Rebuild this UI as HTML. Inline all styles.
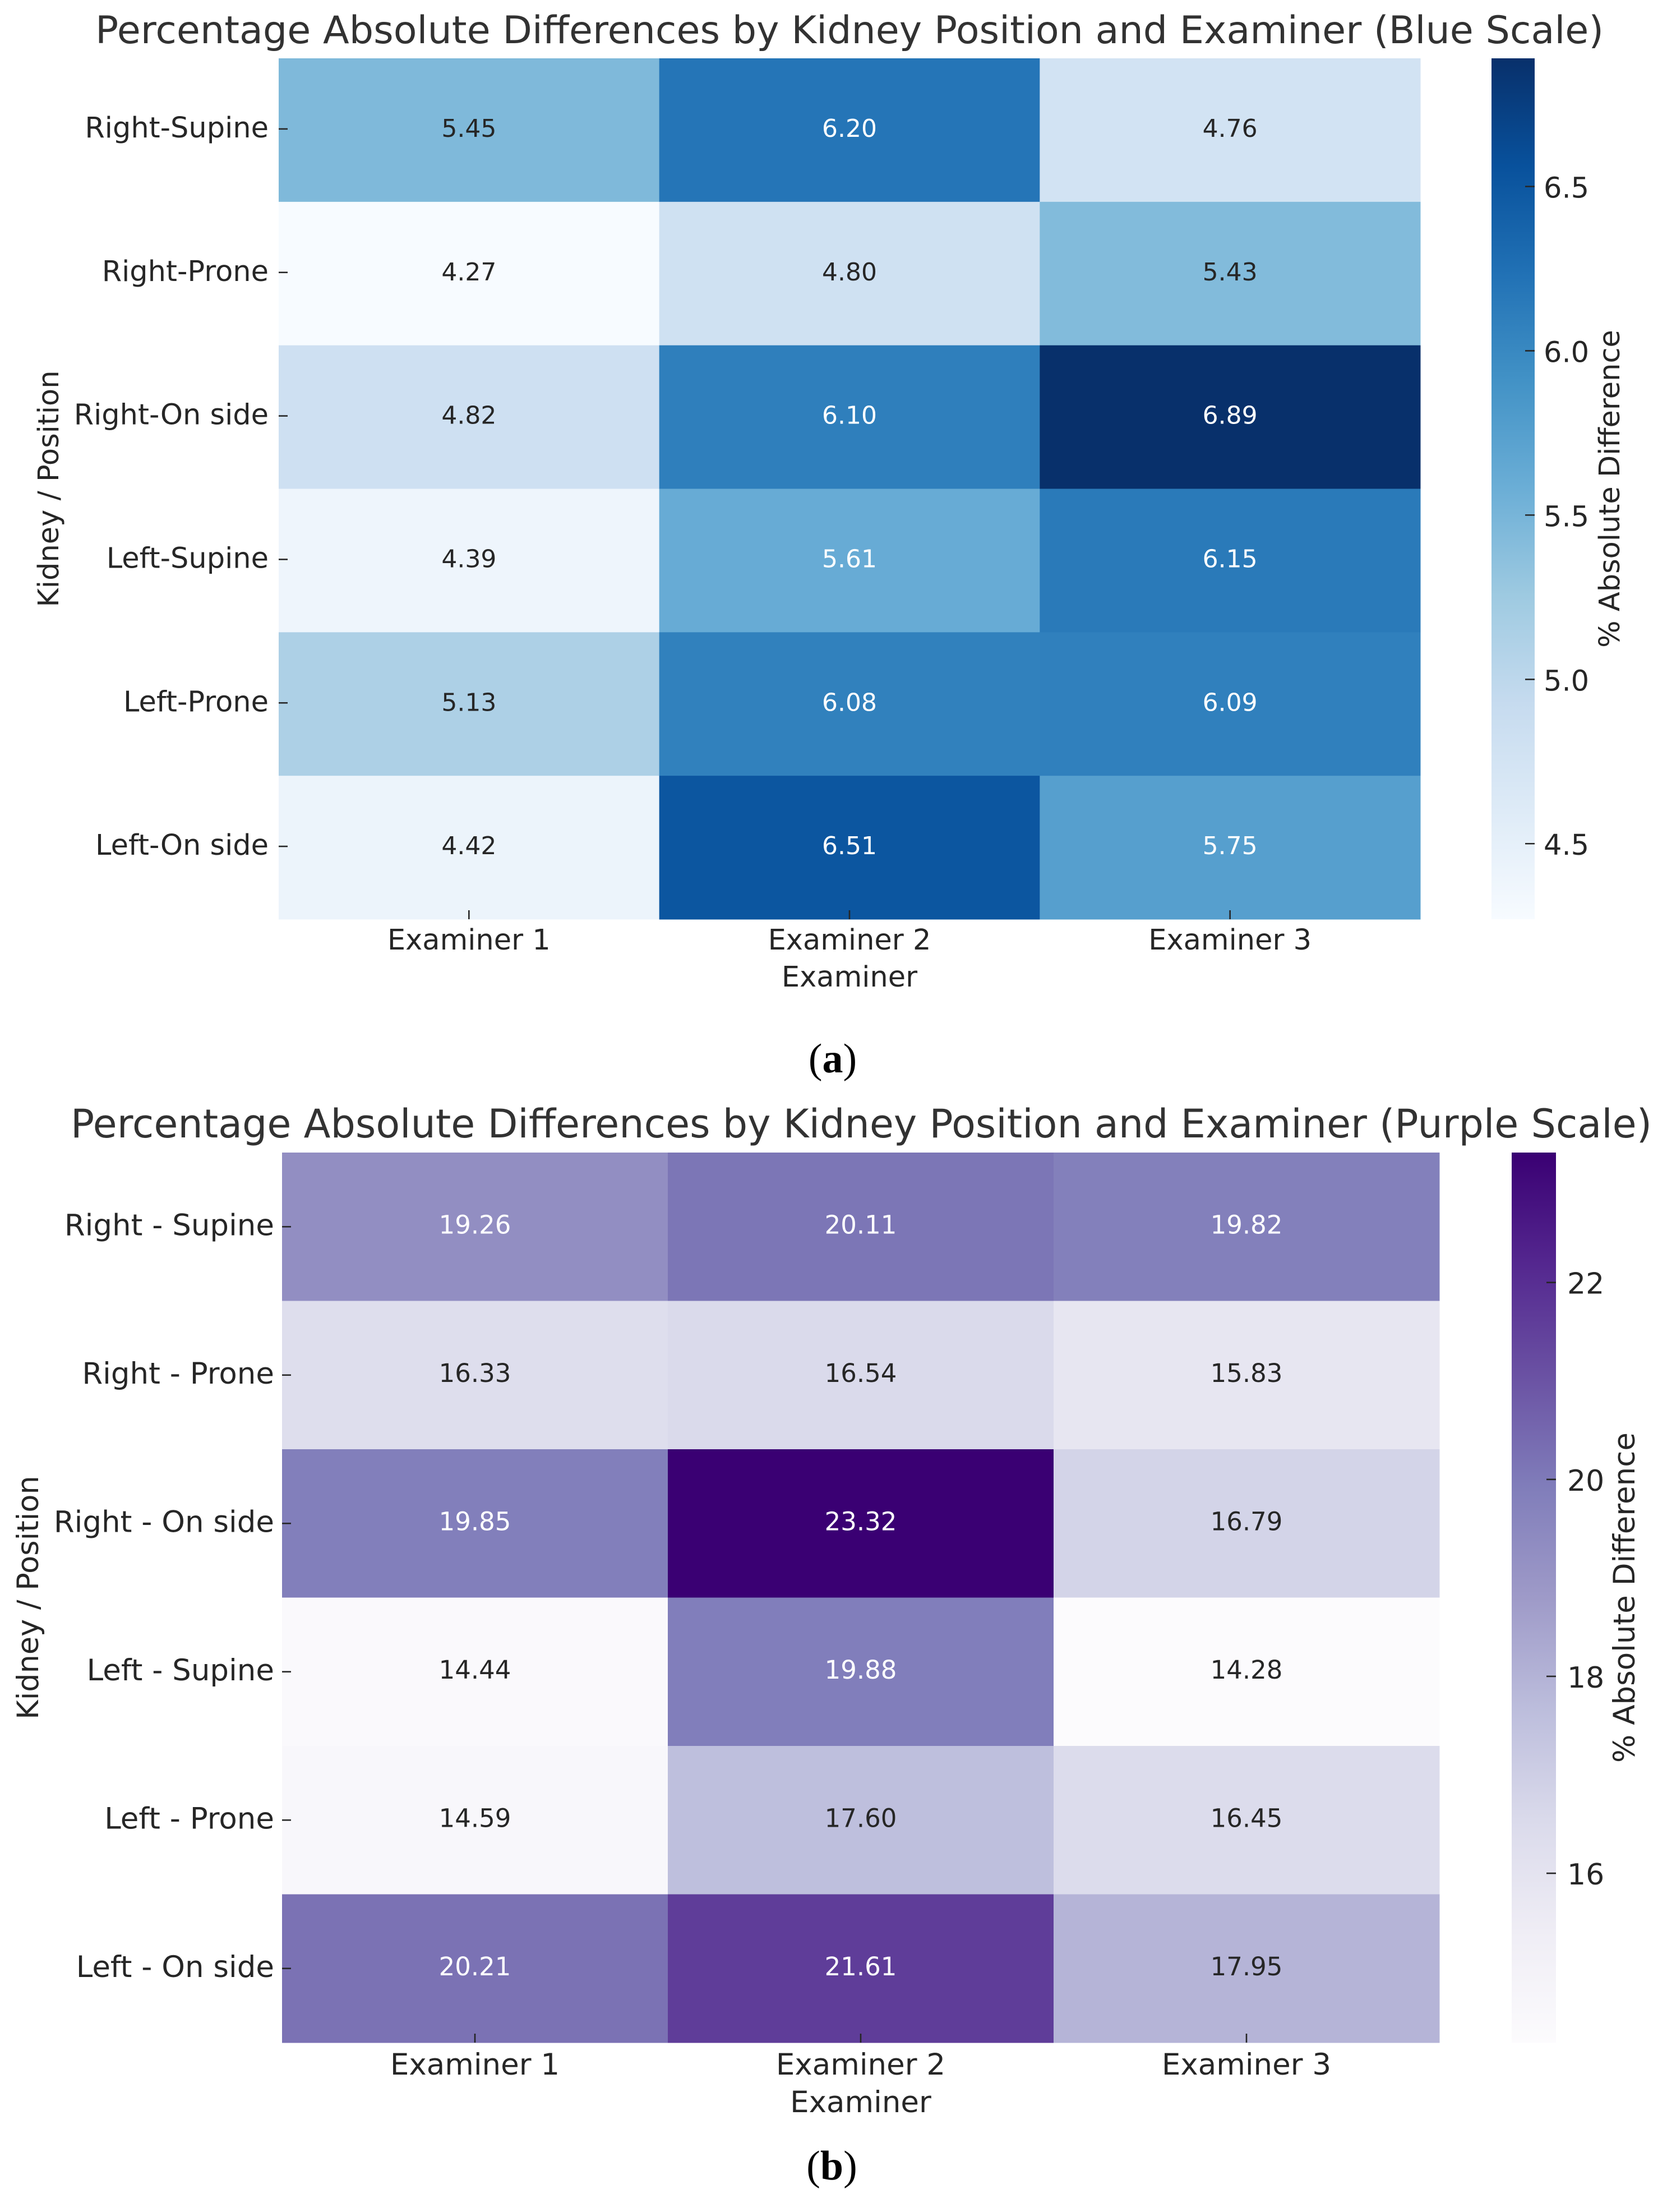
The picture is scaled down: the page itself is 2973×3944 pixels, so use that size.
<!DOCTYPE html>
<html lang="en">
<head>
<meta charset="utf-8">
<title>Percentage Absolute Differences by Kidney Position and Examiner</title>
<style>
html,body{margin:0;padding:0;background:#fff;width:2973px;height:3944px;overflow:hidden}
svg{display:block}
text{font-family:"DejaVu Sans","Liberation Sans",sans-serif;fill:#262626}
.chart-title{fill:#323232}
.caption{font-family:"Liberation Serif","DejaVu Serif",serif;fill:#000;font-size:74px}
</style>
</head>
<body>
<svg id="figure" xmlns="http://www.w3.org/2000/svg" width="2973" height="3944" viewBox="0 0 2973 3944">
  <rect x="0" y="0" width="2973" height="3944" fill="#ffffff"/>
  <defs id="defs"></defs>

  <g id="panel-a">
    <text class="chart-title" x="170" y="77" font-size="68" textLength="2690" lengthAdjust="spacingAndGlyphs">Percentage Absolute Differences by Kidney Position and Examiner (Blue Scale)</text>
    <text x="1515" y="1759" font-size="51" text-anchor="middle">Examiner</text>
    <text transform="translate(104 871.5) rotate(-90)" font-size="51" text-anchor="middle">Kidney / Position</text>
    <text transform="translate(2888 871.5) rotate(-90)" font-size="51" text-anchor="middle">% Absolute Difference</text>
  </g>
  <text class="caption" x="1485" y="1912" text-anchor="middle">(<tspan font-weight="bold">a</tspan>)</text>

  <g id="panel-b">
    <text class="chart-title" x="126" y="2028" font-size="70" textLength="2820" lengthAdjust="spacingAndGlyphs">Percentage Absolute Differences by Kidney Position and Examiner (Purple Scale)</text>
    <text x="1535" y="3766" font-size="53" text-anchor="middle">Examiner</text>
    <text transform="translate(68 2848.5) rotate(-90)" font-size="52.5" text-anchor="middle">Kidney / Position</text>
    <text transform="translate(2915 2848.5) rotate(-90)" font-size="53" text-anchor="middle">% Absolute Difference</text>
  </g>
  <text class="caption" x="1483.5" y="3886" text-anchor="middle">(<tspan font-weight="bold">b</tspan>)</text>
</svg>

<script>
// ---- Chart data ----
const examinerLabels = ["Examiner 1", "Examiner 2", "Examiner 3"];

const blueRowLabels = ["Right-Supine", "Right-Prone", "Right-On side", "Left-Supine", "Left-Prone", "Left-On side"];
const blueExaminer1 = [5.45, 4.27, 4.82, 4.39, 5.13, 4.42];
const blueExaminer2 = [6.20, 4.80, 6.10, 5.61, 6.08, 6.51];
const blueExaminer3 = [4.76, 5.43, 6.89, 6.15, 6.09, 5.75];
const blueColorbarTicks = [4.5, 5.0, 5.5, 6.0, 6.5];
const blueColorbarTickLabels = ["4.5", "5.0", "5.5", "6.0", "6.5"];

const purpleRowLabels = ["Right - Supine", "Right - Prone", "Right - On side", "Left - Supine", "Left - Prone", "Left - On side"];
const purpleExaminer1 = [19.26, 16.33, 19.85, 14.44, 14.59, 20.21];
const purpleExaminer2 = [20.11, 16.54, 23.32, 19.88, 17.60, 21.61];
const purpleExaminer3 = [19.82, 15.83, 16.79, 14.28, 16.45, 17.95];
const purpleColorbarTicks = [16, 18, 20, 22];
const purpleColorbarTickLabels = ["16", "18", "20", "22"];

// Matplotlib / ColorBrewer colormap anchors
const bluesColormap = ["#f7fbff", "#deebf7", "#c6dbef", "#9ecae1", "#6baed6", "#4292c6", "#2171b5", "#08519c", "#08306b"];
const purplesColormap = ["#fcfbfd", "#efedf5", "#dadaeb", "#bcbddc", "#9e9ac8", "#807dba", "#6a51a3", "#54278f", "#3a0073"];

// ---- Rendering ----
const SVG_NS = "http://www.w3.org/2000/svg";

function hexToRgb(hex) {
  return [1, 3, 5].map(function (i) { return parseInt(hex.substr(i, 2), 16); });
}

function sampleColormap(anchors, t) {
  const clamped = Math.max(0, Math.min(1, t));
  const pos = clamped * (anchors.length - 1);
  const low = Math.min(Math.floor(pos), anchors.length - 2);
  const frac = pos - low;
  const a = hexToRgb(anchors[low]);
  const b = hexToRgb(anchors[low + 1]);
  return [0, 1, 2].map(function (k) { return Math.round(a[k] + (b[k] - a[k]) * frac); });
}

function cssColor(rgb) {
  return "rgb(" + rgb.join(",") + ")";
}

function relativeLuminance(rgb) {
  const lin = rgb.map(function (v) {
    const c = v / 255;
    return c <= 0.03928 ? c / 12.92 : Math.pow((c + 0.055) / 1.055, 2.4);
  });
  return 0.2126 * lin[0] + 0.7152 * lin[1] + 0.0722 * lin[2];
}

function addLabel(parent, content, x, y, size, anchor, fill) {
  const el = document.createElementNS(SVG_NS, "text");
  el.setAttribute("x", x);
  el.setAttribute("y", y);
  el.setAttribute("font-size", size);
  el.setAttribute("text-anchor", anchor);
  if (fill) el.setAttribute("style", "fill:" + fill);
  el.textContent = content;
  parent.appendChild(el);
  return el;
}

function addTick(parent, x1, y1, x2, y2) {
  const el = document.createElementNS(SVG_NS, "line");
  el.setAttribute("x1", x1);
  el.setAttribute("y1", y1);
  el.setAttribute("x2", x2);
  el.setAttribute("y2", y2);
  el.setAttribute("stroke", "#262626");
  el.setAttribute("stroke-width", 2.6);
  parent.appendChild(el);
  return el;
}

function drawHeatmap(panel, prefix, layout, rowLabels, columns, colorbarTicks, colorbarTickLabels, colormap) {
  const parent = document.getElementById(panel);
  const allValues = columns.reduce(function (acc, col) { return acc.concat(col); }, []);
  const vMin = Math.min.apply(null, allValues);
  const vMax = Math.max.apply(null, allValues);
  const colWidth = (layout.right - layout.left) / columns.length;
  const rowHeight = (layout.bottom - layout.top) / rowLabels.length;

  function xBand(i) { return layout.left + i * colWidth; }
  function yBand(j) { return layout.top + j * rowHeight; }
  function normalize(v) { return (v - vMin) / (vMax - vMin); }
  function colorbarY(v) { return layout.bottom - normalize(v) * (layout.bottom - layout.top); }

  columns.forEach(function (col, i) {
    col.forEach(function (value, j) {
      const rgb = sampleColormap(colormap, normalize(value));
      const cell = document.createElementNS(SVG_NS, "rect");
      cell.setAttribute("x", xBand(i));
      cell.setAttribute("y", yBand(j));
      cell.setAttribute("width", colWidth + 0.5);
      cell.setAttribute("height", rowHeight + 0.5);
      cell.setAttribute("fill", cssColor(rgb));
      
      
      parent.appendChild(cell);
    });
  });

  columns.forEach(function (col, i) {
    col.forEach(function (value, j) {
      const rgb = sampleColormap(colormap, normalize(value));
      const fill = relativeLuminance(rgb) > 0.408 ? "#262626" : "#ffffff";
      const text = addLabel(parent, value.toFixed(2), xBand(i) + colWidth / 2, yBand(j) + rowHeight / 2 + layout.valueDy, layout.valueSize, "middle", fill);
      
      
    });
  });

  rowLabels.forEach(function (label, j) {
    const cy = yBand(j) + rowHeight / 2 - layout.rowShift;
    const tick = addTick(parent, layout.left, cy, layout.left + 16, cy);
    
    
    const text = addLabel(parent, label, layout.left - layout.rowLabelGap, cy + 15, layout.tickSize, "end");
    
    
  });

  examinerLabels.forEach(function (label, i) {
    const cx = xBand(i) + colWidth / 2;
    const tick = addTick(parent, cx, layout.bottom - 16, cx, layout.bottom);
    
    
    const text = addLabel(parent, label, cx, layout.bottom + layout.xLabelDy, layout.tickSize, "middle");
    
    
  });

  const gradient = document.createElementNS(SVG_NS, "linearGradient");
  gradient.setAttribute("id", prefix + "-gradient");
  gradient.setAttribute("x1", "0");
  gradient.setAttribute("y1", "1");
  gradient.setAttribute("x2", "0");
  gradient.setAttribute("y2", "0");
  colormap.forEach(function (color, k) {
    const stop = document.createElementNS(SVG_NS, "stop");
    stop.setAttribute("offset", k / (colormap.length - 1));
    stop.setAttribute("stop-color", color);
    gradient.appendChild(stop);
  });
  document.getElementById("defs").appendChild(gradient);

  const bar = document.createElementNS(SVG_NS, "rect");
  bar.setAttribute("x", layout.barLeft);
  bar.setAttribute("y", layout.top);
  bar.setAttribute("width", layout.barRight - layout.barLeft);
  bar.setAttribute("height", layout.bottom - layout.top);
  bar.setAttribute("fill", "url(#" + prefix + "-gradient)");
  
  
  parent.appendChild(bar);

  colorbarTicks.forEach(function (value, k) {
    const cy = colorbarY(value);
    const tick = addTick(parent, layout.barRight - 17, cy, layout.barRight, cy);
    
    
    const text = addLabel(parent, colorbarTickLabels[k], layout.barRight + layout.barLabelDx, cy + 20, layout.barTickSize, "start");
    
    
  });
}

drawHeatmap("panel-a", "blue",
  { left: 497, right: 2533, top: 104, bottom: 1639, barLeft: 2660, barRight: 2737, barLabelDx: 16, barTickSize: 51, valueSize: 44, valueDy: 12, tickSize: 51, xLabelDy: 54, rowShift: 2, rowLabelGap: 18 },
  blueRowLabels,
  [blueExaminer1, blueExaminer2, blueExaminer3],
  blueColorbarTicks, blueColorbarTickLabels, bluesColormap);

drawHeatmap("panel-b", "purple",
  { left: 503, right: 2567, top: 2055, bottom: 3642, barLeft: 2696, barRight: 2775, barLabelDx: 20, barTickSize: 52, valueSize: 45, valueDy: 12, tickSize: 53, xLabelDy: 57, rowShift: 0, rowLabelGap: 14 },
  purpleRowLabels,
  [purpleExaminer1, purpleExaminer2, purpleExaminer3],
  purpleColorbarTicks, purpleColorbarTickLabels, purplesColormap);
</script>
</body>
</html>
